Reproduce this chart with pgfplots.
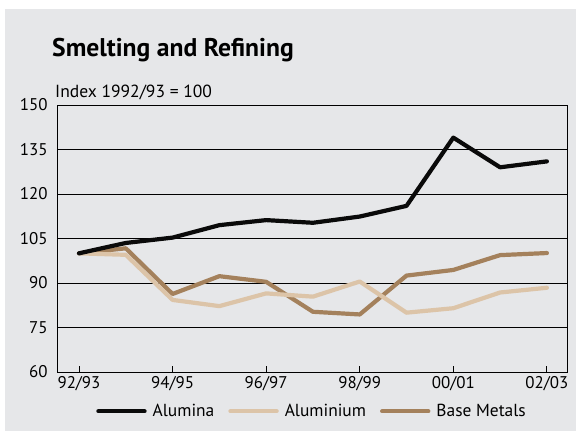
\documentclass[border=0pt]{standalone}
\usepackage{fontspec}
\setmainfont{PT Sans}
\usepackage{pgfplots}
\pgfplotsset{compat=1.18}
\definecolor{panel}{HTML}{E6E7E9}
\definecolor{alumina}{HTML}{0A0A0A}
\definecolor{aluminium}{HTML}{DCC4A8}
\definecolor{basemetals}{HTML}{A4815C}
\begin{document}
\begin{tikzpicture}[x=1bp,y=1bp]
% page and grey panel
\fill[white] (0,0) rectangle (576,431);
\fill[panel] (5,0) rectangle (576,422);
\node[anchor=base west, inner sep=0pt, font=\bfseries\fontsize{25.7}{26}\selectfont] at (52,375) {Smelting and Refining};
\node[anchor=base west, inner sep=0pt, font=\fontsize{17.6}{18}\selectfont] at (55,334) {Index 1992/93 = 100};
\begin{axis}[
  scale only axis,
  width=510bp, height=267bp,
  at={(57bp,59bp)}, anchor=south west,
  xmin=-0.47, xmax=10.43,
  ymin=60, ymax=150,
  ytick={60,75,...,150},
  xtick={0,2,...,10},
  xticklabels={92/93,94/95,96/97,98/99,00/01,02/03},
  ymajorgrids,
  grid style={black, line width=0.8bp},
  axis line style={black, line width=0.9bp},
  ytick style={draw=none},
  xtick style={black, line width=0.8bp},
  xtick pos=bottom,
  tick align=inside,
  major tick length=6bp,
  /pgf/number format/assume math mode=true,
  tick label style={font=\fontsize{17}{17}\selectfont},
  yticklabel style={xshift=-6bp},
  xticklabel style={yshift=-1bp},
  legend style={at={(0.5,-0.147)}, anchor=center, draw=none, fill=none,
    font=\fontsize{17.5}{18}\selectfont, legend columns=3,
    /tikz/every odd column/.append style={column sep=4bp},
    /tikz/every even column/.append style={column sep=12bp}},
  legend image code/.code={\draw[#1, line width=4.4bp] (0bp,0bp) -- (46bp,0bp);},
  every axis plot/.append style={line width=4.2bp, line join=round, line cap=round, no markers},
]
\addlegendimage{alumina}
\addlegendentry{Alumina}
\addlegendimage{aluminium}
\addlegendentry{Aluminium}
\addlegendimage{basemetals}
\addlegendentry{Base Metals}

\addplot[basemetals, forget plot] coordinates {
  (0,100) (1,101.7) (2,86.3) (3,92.3) (4,90.4) (5,80.3) (6,79.4) (7,92.5) (8,94.4) (9,99.4) (10,100.1)};
\addplot[aluminium, forget plot] coordinates {
  (0,100) (1,99.5) (2,84.3) (3,82.2) (4,86.5) (5,85.4) (6,90.5) (7,80) (8,81.5) (9,86.8) (10,88.4)};
\addplot[alumina, forget plot] coordinates {
  (0,100) (1,103.5) (2,105.3) (3,109.5) (4,111.2) (5,110.3) (6,112.4) (7,116) (8,139) (9,129) (10,131)};
\end{axis}
\end{tikzpicture}
\end{document}
